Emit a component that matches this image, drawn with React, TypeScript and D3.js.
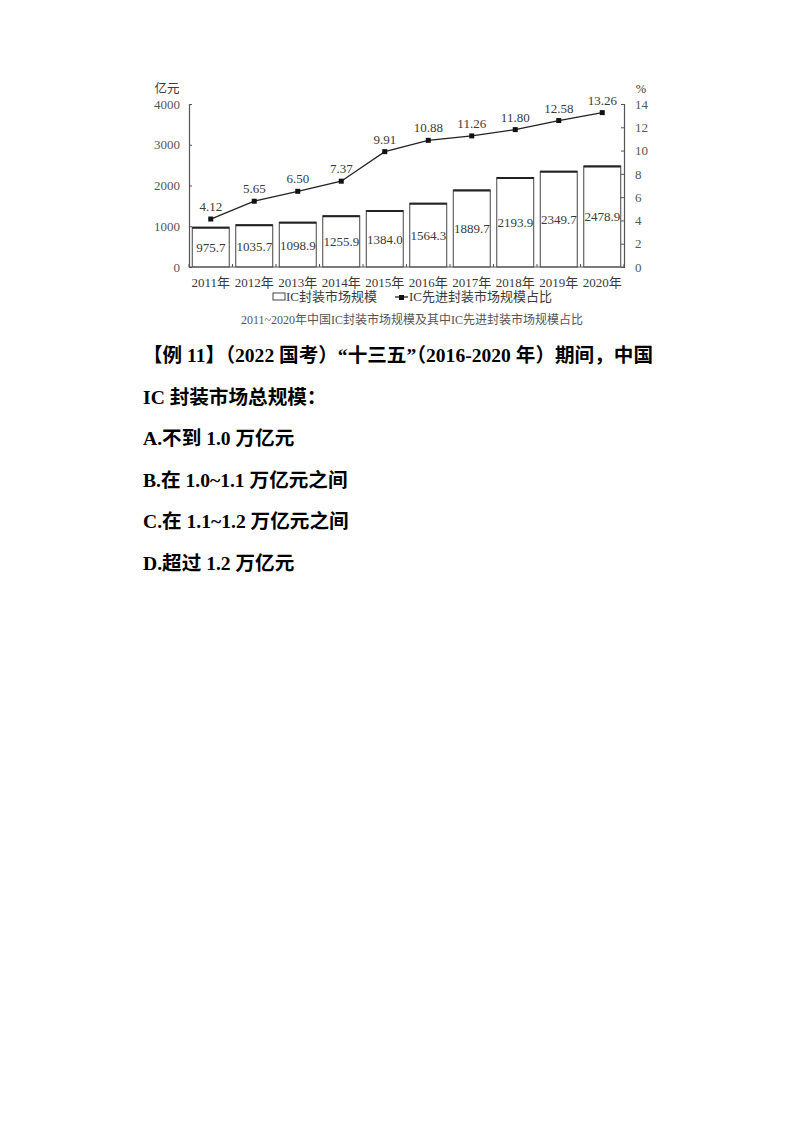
import React, { useEffect, useRef } from 'react';
import * as d3 from 'd3';

const years = ['2011年', '2012年', '2013年', '2014年', '2015年', '2016年', '2017年', '2018年', '2019年', '2020年'];
const marketSize = [975.7, 1035.7, 1098.9, 1255.9, 1384.0, 1564.3, 1889.7, 2193.9, 2349.7, 2478.9];
const advancedShare = [4.12, 5.65, 6.5, 7.37, 9.91, 10.88, 11.26, 11.8, 12.58, 13.26];
const leftTicks = [0, 1000, 2000, 3000, 4000];
const rightTicks = [0, 2, 4, 6, 8, 10, 12, 14];

const questionLines = [
  '【例 11】（2022 国考）“十三五”（2016-2020 年）期间，中国',
  'IC 封装市场总规模：',
  'A.不到 1.0 万亿元',
  'B.在 1.0~1.1 万亿元之间',
  'C.在 1.1~1.2 万亿元之间',
  'D.超过 1.2 万亿元',
];

const serif = '"Liberation Serif", "Times New Roman", "Noto Sans CJK SC", serif';

export default function App() {
  const svgRef = useRef<SVGSVGElement>(null);

  useEffect(() => {
    if (!svgRef.current) return;
    const svg = d3.select(svgRef.current);
    svg.selectAll('*').remove();

    const left = 189, right = 624, top = 104, bottom = 267;
    const textColor = '#3a3a3a';

    const x = d3.scaleBand<string>().domain(years).range([left, right]).paddingInner(0.15).paddingOuter(0.075);
    const yL = d3.scaleLinear().domain([0, 4000]).range([bottom, top]);
    const yR = d3.scaleLinear().domain([0, 14]).range([bottom, top]);

    const g = svg.append('g');

    // bars
    const bars = g.selectAll('g.bar').data(years).join('g');
    bars.append('rect')
      .attr('x', d => x(d)!)
      .attr('y', (d, i) => yL(marketSize[i]))
      .attr('width', x.bandwidth())
      .attr('height', (d, i) => bottom - yL(marketSize[i]))
      .attr('fill', '#fff')
      .attr('stroke', '#444')
      .attr('stroke-width', 1);
    bars.append('line')
      .attr('x1', d => x(d)!)
      .attr('x2', d => x(d)! + x.bandwidth())
      .attr('y1', (d, i) => yL(marketSize[i]) + 0.5)
      .attr('y2', (d, i) => yL(marketSize[i]) + 0.5)
      .attr('stroke', '#222')
      .attr('stroke-width', 2);
    bars.append('text')
      .attr('x', d => x(d)! + x.bandwidth() / 2)
      .attr('y', (d, i) => (yL(marketSize[i]) + bottom) / 2 + 5)
      .attr('text-anchor', 'middle')
      .attr('font-family', serif)
      .attr('font-size', 13)
      .attr('fill', textColor)
      .text((d, i) => marketSize[i].toFixed(1));

    // axes
    const axisL = d3.axisLeft(yL).tickValues(leftTicks).tickSize(-3).tickPadding(9).tickFormat(d => String(d));
    const axisR = d3.axisRight(yR).tickValues(rightTicks).tickSize(-3).tickPadding(11).tickFormat(d => String(d));
    const gl = g.append('g').attr('transform', `translate(${left},0)`).call(axisL);
    const gr = g.append('g').attr('transform', `translate(${right},0)`).call(axisR);
    [gl, gr].forEach(a => {
      a.select('.domain').attr('stroke', '#555').attr('stroke-width', 1.2);
      a.selectAll('.tick line').attr('stroke', '#555');
      a.selectAll('.tick text').attr('font-family', serif).attr('font-size', 13).attr('fill', '#555');
    });

    // bottom axis
    g.append('line').attr('x1', left).attr('x2', right).attr('y1', bottom).attr('y2', bottom)
      .attr('stroke', '#555').attr('stroke-width', 1.2);
    g.selectAll('line.xt').data(d3.range(years.length + 1)).join('line')
      .attr('x1', i => left + i * (right - left) / years.length)
      .attr('x2', i => left + i * (right - left) / years.length)
      .attr('y1', bottom).attr('y2', bottom - 3)
      .attr('stroke', '#555');
    g.selectAll('text.xl').data(years).join('text')
      .attr('x', d => x(d)! + x.bandwidth() / 2)
      .attr('y', bottom + 20)
      .attr('text-anchor', 'middle')
      .attr('font-family', serif)
      .attr('font-size', 13)
      .attr('fill', textColor)
      .text(d => d);

    // unit labels
    g.append('text').attr('x', 167).attr('y', 93).attr('text-anchor', 'middle')
      .attr('font-family', serif).attr('font-size', 12.5).attr('fill', textColor).text('亿元');
    g.append('text').attr('x', 641).attr('y', 93).attr('text-anchor', 'middle')
      .attr('font-family', serif).attr('font-size', 12.5).attr('fill', textColor).text('%');

    // line
    const line = d3.line<number>()
      .x((d, i) => x(years[i])! + x.bandwidth() / 2)
      .y(d => yR(d));
    g.append('path').datum(advancedShare).attr('d', line)
      .attr('fill', 'none').attr('stroke', '#222').attr('stroke-width', 1.3);
    g.selectAll('rect.pt').data(advancedShare).join('rect')
      .attr('x', (d, i) => x(years[i])! + x.bandwidth() / 2 - 2.5)
      .attr('y', d => yR(d) - 2.5)
      .attr('width', 5).attr('height', 5).attr('fill', '#111');
    g.selectAll('text.pl').data(advancedShare).join('text')
      .attr('x', (d, i) => x(years[i])! + x.bandwidth() / 2)
      .attr('y', d => yR(d) - 8)
      .attr('text-anchor', 'middle')
      .attr('font-family', serif)
      .attr('font-size', 13)
      .attr('fill', textColor)
      .text(d => d.toFixed(2));

    // legend
    const lg = g.append('g').attr('font-family', serif).attr('font-size', 13).attr('fill', textColor);
    lg.append('rect').attr('x', 273).attr('y', 293).attr('width', 12).attr('height', 7)
      .attr('fill', '#fff').attr('stroke', '#444');
    lg.append('text').attr('x', 286).attr('y', 301).text('IC封装市场规模');
    lg.append('line').attr('x1', 395).attr('x2', 408).attr('y1', 297).attr('y2', 297).attr('stroke', '#222').attr('stroke-width', 1.3);
    lg.append('rect').attr('x', 399).attr('y', 295).attr('width', 5).attr('height', 5).attr('fill', '#111');
    lg.append('text').attr('x', 409).attr('y', 301).text('IC先进封装市场规模占比');

    // caption
    g.append('text').attr('x', 412).attr('y', 324).attr('text-anchor', 'middle')
      .attr('font-family', serif).attr('font-size', 12).attr('fill', '#555')
      .text('2011~2020年中国IC封装市场规模及其中IC先进封装市场规模占比');

    // question text
    g.selectAll('text.q').data(questionLines).join('text')
      .attr('x', 143)
      .attr('y', (d, i) => 362 + i * 41.6)
      .attr('font-family', serif)
      .attr('font-weight', 'bold')
      .attr('font-size', 19.6)
      .attr('fill', '#000')
      .text(d => d);
  }, []);

  return (
    <svg ref={svgRef} width={800} height={1132}
      style={{ position: 'absolute', left: 0, top: 0, background: '#fff' }} />
  );
}
